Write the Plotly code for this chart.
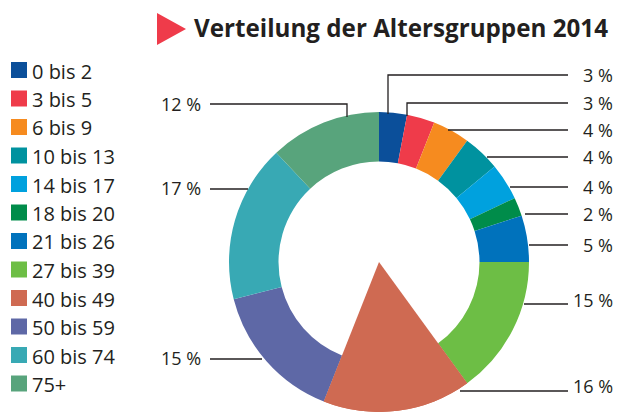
import plotly.graph_objects as go

# ---- data ----
categories = ["0 bis 2", "3 bis 5", "6 bis 9", "10 bis 13", "14 bis 17", "18 bis 20",
              "21 bis 26", "27 bis 39", "40 bis 49", "50 bis 59", "60 bis 74", "75+"]
shares = [3, 3, 4, 4, 4, 2, 5, 15, 16, 15, 17, 12]
colors = ["#0B4F9A", "#EF3B4A", "#F68B1F", "#00929F", "#00A1DE", "#008C4A",
          "#0072BC", "#6DBE45", "#CF6A52", "#5E68A6", "#38A9B4", "#58A47C"]
highlight = "40 bis 49"
title_text = "Verteilung der Altersgruppen 2014"

# figure fills the whole window (body margin removed below)
FW, FH = 617, 412
def px(x): return x / FW
def py(y): return 1 - y / FH

# pie geometry (screen pixels)
cx, cy, R = 379, 262, 150
dom_x = [px(cx - R), px(cx + R)]
dom_y = [py(cy + R), py(cy - R)]

fig = go.Figure()
fig.add_trace(go.Pie(
    labels=categories, values=shares, sort=False, direction="clockwise", rotation=0,
    hole=0.67, marker=dict(colors=colors, line=dict(width=0)),
    textinfo="none", hoverinfo="label+percent", showlegend=False,
    domain=dict(x=dom_x, y=dom_y)))
hl_colors = [c if cat == highlight else "rgba(0,0,0,0)" for cat, c in zip(categories, colors)]
fig.add_trace(go.Pie(
    labels=categories, values=shares, sort=False, direction="clockwise", rotation=0,
    hole=0, marker=dict(colors=hl_colors, line=dict(width=0)),
    textinfo="none", hoverinfo="skip", showlegend=False,
    domain=dict(x=dom_x, y=dom_y)))

# ---- leader lines (layout geometry, screen pixels) and label anchors ----
leaders = [
    ([(388, 114), (388, 75), (568, 75)], 615, 75),
    ([(407, 116), (407, 103), (568, 103)], 615, 103),
    ([(448, 130), (568, 130)], 615, 130),
    ([(487, 157), (568, 157)], 615, 157),
    ([(510, 187), (568, 187)], 615, 187),
    ([(525, 214), (568, 214)], 615, 214),
    ([(529, 245), (568, 245)], 615, 245),
    ([(524, 304), (568, 304)], 615, 300),
    ([(460, 391), (568, 391)], 615, 386),
    ([(262, 359), (210, 359)], 203, 358),
    ([(248, 189), (210, 189)], 203, 188),
    ([(347, 117), (347, 104), (210, 104)], 203, 104),
]
shapes = []
annotations = []
for (pts, lx, ly), val in zip(leaders, shares):
    path = "M " + " L ".join(f"{px(x)},{py(y)}" for x, y in pts)
    shapes.append(dict(type="path", xref="paper", yref="paper", path=path,
                       line=dict(color="#231F20", width=1.3)))
    annotations.append(dict(xref="paper", yref="paper", x=px(lx), y=py(ly),
                            text=f"{val} %", showarrow=False,
                            xanchor="right", yanchor="middle",
                            font=dict(family="Open Sans", size=18, color="#231F20")))

# ---- manual legend ----
leg_y0, leg_dy = 70, 28.5
for i, (cat, c) in enumerate(zip(categories, colors)):
    yc = leg_y0 + i * leg_dy
    shapes.append(dict(type="rect", xref="paper", yref="paper",
                       x0=px(11), x1=px(27), y0=py(yc + 8), y1=py(yc - 8),
                       fillcolor=c, line=dict(width=0)))
    annotations.append(dict(xref="paper", yref="paper", x=px(30), y=py(yc + 1),
                            text=cat, showarrow=False, xanchor="left", yanchor="middle",
                            font=dict(family="Open Sans", size=20, color="#231F20")))

# ---- title with red triangle ----
shapes.append(dict(type="path", xref="paper", yref="paper",
                   path=f"M {px(157)},{py(13)} L {px(186)},{py(29)} L {px(157)},{py(45)} Z",
                   fillcolor="#EF3B4A", line=dict(width=0)))
annotations.append(dict(xref="paper", yref="paper", x=px(192), y=py(28),
                        text=f"<b>{title_text}</b>", showarrow=False,
                        xanchor="left", yanchor="middle",
                        font=dict(family="Open Sans", size=24.2, color="#231F20")))

fig.update_layout(width=FW, height=FH, margin=dict(l=0, r=0, t=0, b=0),
                  paper_bgcolor="white", plot_bgcolor="white",
                  shapes=shapes, annotations=annotations, showlegend=False)
fig.write_html("out.html", config={"displayModeBar": False},
               post_script="document.body.style.margin='0';document.body.style.overflow='hidden';")
